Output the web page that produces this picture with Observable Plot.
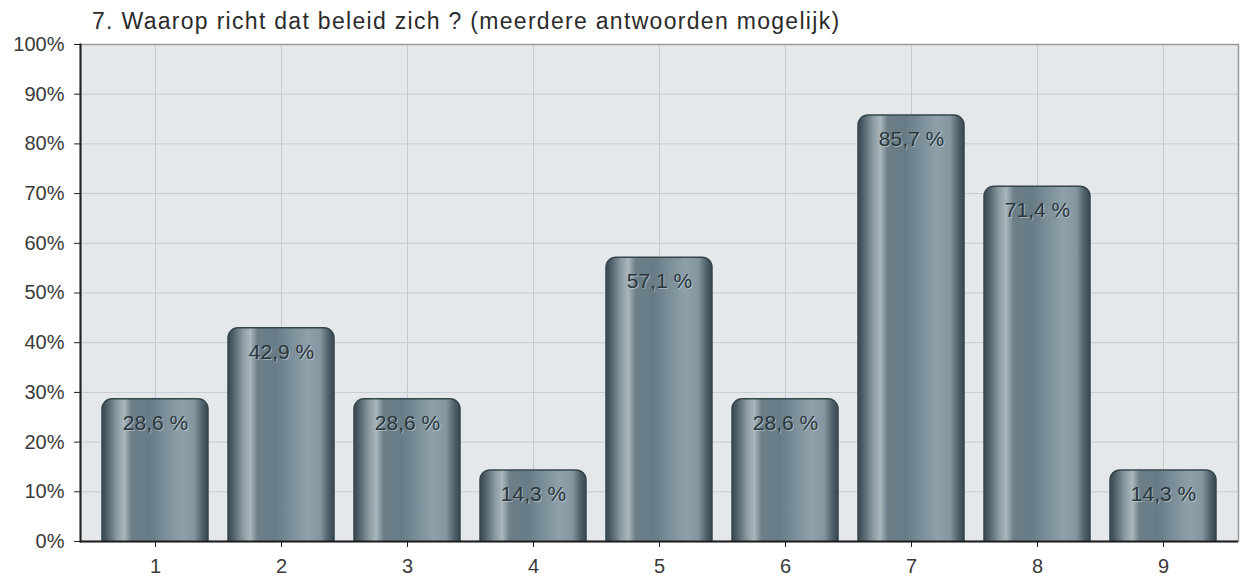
<!DOCTYPE html>
<html>
<head>
<meta charset="utf-8">
<script src="https://cdn.jsdelivr.net/npm/d3@7"></script>
<script src="https://cdn.jsdelivr.net/npm/@observablehq/plot@0.6"></script>
<style>
  body { margin: 0; background: #fff; font-family: "Liberation Sans", Arial, sans-serif; }
  #title { box-sizing: border-box; height: 30px; padding: 10px 0 0 92px; font-size: 23px; line-height: 23px; color: #2b2b2b; letter-spacing: 1.3px; white-space: nowrap; }
  #chart svg { display: block; overflow: visible; }
</style>
</head>
<body>
<div id="title">7. Waarop richt dat beleid zich ? (meerdere antwoorden mogelijk)</div>
<div id="chart"></div>
<script>
const categories = ["1", "2", "3", "4", "5", "6", "7", "8", "9"];
const values = [28.6, 42.9, 28.6, 14.3, 57.1, 28.6, 85.7, 71.4, 14.3];
const yTicks = [0, 10, 20, 30, 40, 50, 60, 70, 80, 90, 100];

const data = categories.map((c, i) => ({cat: c, value: values[i]}));

const gradientDefs = () => {
  const defs = d3.create("svg:defs");
  const g = defs.append("linearGradient").attr("id", "barGrad")
    .attr("x1", "0").attr("x2", "1").attr("y1", "0").attr("y2", "0");
  const stops = [
    [0, "#38474f"], [0.05, "#50616a"], [0.14, "#8a9aa1"], [0.21, "#aab7bd"],
    [0.28, "#6c7f89"], [0.45, "#687c87"], [0.75, "#8ea1ab"], [0.87, "#8497a1"],
    [0.95, "#4d6069"], [1, "#38474f"]
  ];
  for (const [o, c] of stops) g.append("stop").attr("offset", o).attr("stop-color", c);
  return defs.node();
};

const chart = Plot.plot({
  width: 1242,
  height: 546,
  marginTop: 14,
  marginBottom: 35,
  marginLeft: 80,
  marginRight: 4,
  style: {fontFamily: "Liberation Sans, Arial, sans-serif", color: "#3a3a3a", background: "transparent"},
  x: {domain: categories, padding: 0.155, label: null},
  y: {domain: [0, 100], label: null},
  marks: [
    gradientDefs,
    Plot.frame({fill: "#e5e8eb", stroke: "none"}),
    Plot.gridY(yTicks, {stroke: "#c6cace", strokeOpacity: 1}),
    Plot.gridX(categories, {stroke: "#c6cace", strokeOpacity: 1}),
    Plot.frame({stroke: "#9a9a9a", strokeWidth: 1.5}),
    Plot.barY(data, {x: "cat", y1: -3, y2: "value", fill: "url(#barGrad)", stroke: "#36454d", strokeWidth: 1.5, rx: 10, clip: true}),
    Plot.text(data, {x: "cat", y: "value", text: d => d.value.toFixed(1).replace(".", ",") + " %", dy: 25, dx: 1, fontSize: 21, fill: "#e9eef0", fillOpacity: 0.45}),
    Plot.text(data, {x: "cat", y: "value", text: d => d.value.toFixed(1).replace(".", ",") + " %", dy: 24, fontSize: 21, fill: "#2a363c"}),
    Plot.axisY({ticks: yTicks, tickFormat: d => d + "%", tickSize: 6, tickPadding: 10, fontSize: 20, label: null, stroke: "#222"}),
    Plot.axisX({tickSize: 6, tickPadding: 11, fontSize: 20, label: null, stroke: "#222"}),
    Plot.frame({anchor: "left", stroke: "#1e1e1e", strokeWidth: 2}),
    Plot.ruleY([0], {stroke: "#1e1e1e", strokeWidth: 2})
  ]
});
document.getElementById("chart").appendChild(chart);
</script>
</body>
</html>
